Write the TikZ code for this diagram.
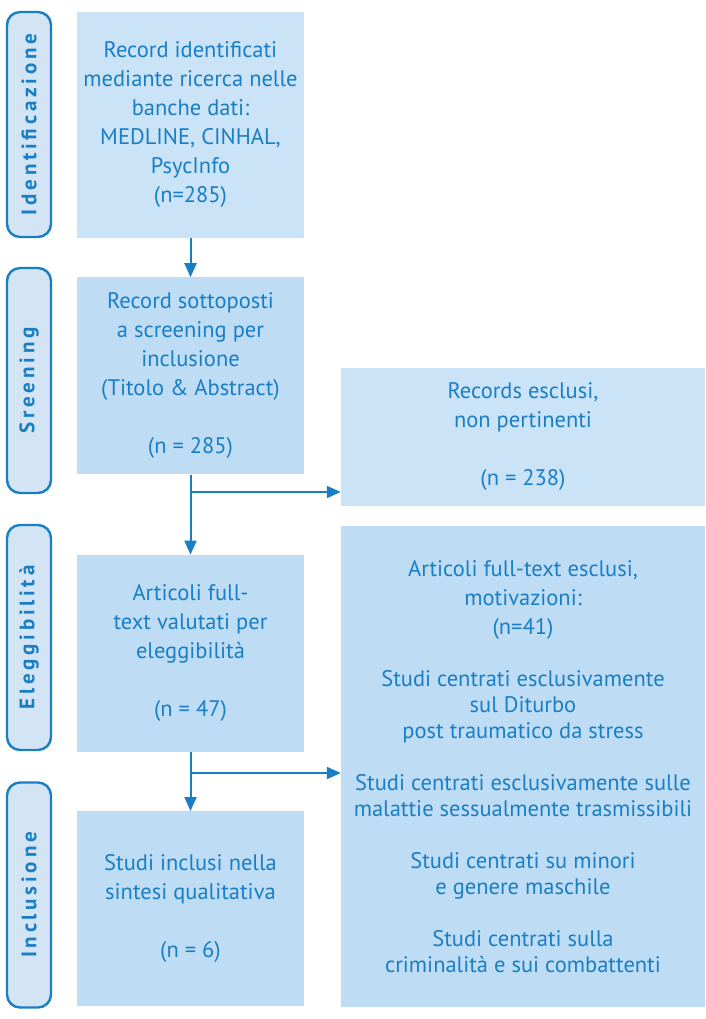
\documentclass[tikz,border=0pt]{standalone}
\usepackage{fontspec}
\setmainfont{PT Sans}
\usetikzlibrary{arrows.meta,positioning}

\definecolor{prismablue}{HTML}{1A7EC4}
\definecolor{boxfill}{HTML}{BEDDF5}
\definecolor{boxlight}{HTML}{CAE3F7}
\definecolor{tabfill}{HTML}{D3E5F5}

\begin{document}
\begin{tikzpicture}[
  x=1pt, y=-1pt,
  font=\fontsize{22.5}{29}\selectfont,
  text=prismablue,
  box/.style={fill=boxfill, align=center, inner sep=0pt, minimum width=227pt, minimum height=197pt},
  exclbox/.style={fill=boxlight, align=center, inner sep=0pt, minimum width=364pt},
  phase/.style={draw=prismablue, line width=2.4pt, fill=tabfill, rounded corners=13pt,
    minimum width=225pt, minimum height=44pt, inner sep=0pt, rotate=90,
    font=\fontsize{21}{22}\selectfont\bfseries\addfontfeatures{LetterSpace=18}},
  arrow/.style={draw=prismablue, line width=2pt, -{Triangle[length=14pt,width=12pt]}}
]
\useasboundingbox (0,0) rectangle (705,1019);

% Phase tabs
\node[phase] (tabid) at (29,124.5) {Identificazione};
\node[phase] (tabscr) at (29,380.5) {Sreening};
\node[phase] (tabel) at (29,637.5) {Eleggibilità};
\node[phase] (tabinc) at (29,895) {Inclusione};

% Main flow
\node[box, fill=boxlight, minimum height=226pt] (ident) at (190.5,125)
  {Record identificati\\mediante ricerca nelle\\banche dati:\\MEDLINE, CINHAL,\\PsycInfo\\(n=285)};
\node[box, below=39pt of ident] (screen)
  {Record sottoposti\\a screening per\\inclusione\\(Titolo \& Abstract)\\ \\(n = 285)};
\node[box, below=80pt of screen] (elig)
  {Articoli full-\\text valutati per\\eleggibilità\\ \\(n = 47)};
\node[box, below=59pt of elig, minimum height=195pt] (incl)
  {Studi inclusi nella\\sintesi qualitativa\\ \\(n = 6)};

% Excluded records
\node[exclbox, minimum height=138pt] (excl1) at (523,437)
  {Records esclusi,\\non pertinenti\\ \\(n = 238)};
\node[exclbox, fill=boxfill, minimum height=481pt,
  font=\fontsize{22.5}{26}\selectfont] (excl2) at (523,766.5)
  {Articoli full-text esclusi,\\[3pt]motivazioni:\\[3pt](n=41)\\[26pt]
   Studi centrati esclusivamente\\sul Diturbo\\post traumatico da stress\\[26pt]
   Studi centrati esclusivamente sulle\\malattie sessualmente trasmissibili\\[26pt]
   Studi centrati su minori\\e genere maschile\\[26pt]
   Studi centrati sulla\\criminalità e sui combattenti};

% Connections
\coordinate (fork1) at (ident.south |- 0,492);
\coordinate (fork2) at (ident.south |- 0,773);
\draw[arrow] (ident) -- (screen);
\draw[arrow] (screen) -- (elig);
\draw[arrow] (fork1) -- (fork1 -| excl1.west);
\draw[arrow] (elig) -- (incl);
\draw[arrow] (fork2) -- (fork2 -| excl2.west);

\end{tikzpicture}
\end{document}
